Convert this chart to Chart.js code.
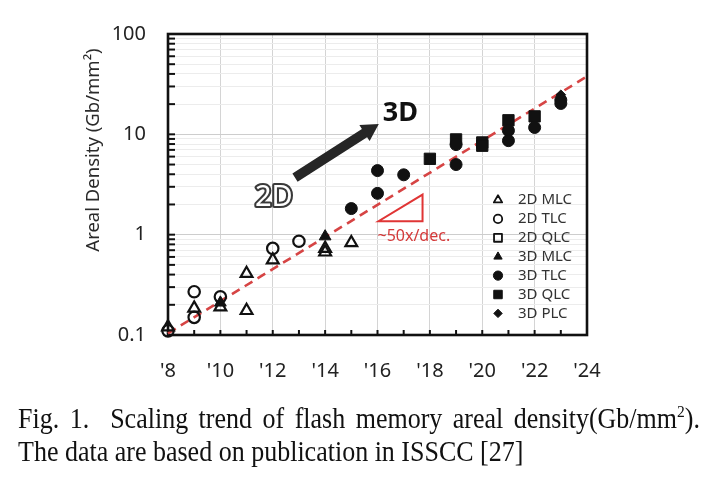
<!DOCTYPE html>
<html><head><meta charset="utf-8">
<script src="https://cdn.jsdelivr.net/npm/chart.js@4.4.1/dist/chart.umd.min.js"></script>
<style>
html,body{margin:0;padding:0;background:#fff;width:723px;height:498px;overflow:hidden}
#wrap{position:relative;width:723px;height:498px}
canvas{position:absolute;left:0;top:0}
.cap{position:absolute;left:18px;font-family:"Liberation Serif","Times New Roman",serif;font-size:26px;line-height:30px;color:#111;white-space:nowrap;transform:scaleY(1.12);transform-origin:0 0}
.cap sup{font-size:0.6em;vertical-align:super;line-height:0}
#cap1{top:402px;width:682px;text-align:justify;text-align-last:justify;white-space:normal}
#cap2{top:435px}
</style></head>
<body><div id="wrap"><canvas id="c" width="723" height="498"></canvas>
<div class="cap" id="cap1">Fig. 1.&nbsp; Scaling trend of flash memory areal density(Gb/mm<sup>2</sup>).</div>
<div class="cap" id="cap2">The data are based on publication in ISSCC [27]</div>
</div>
<script>
// ---- axis ranges & tick labels ----
const xMin = 2008, xMax = 2024;
const xTickYears = [2008, 2010, 2012, 2014, 2016, 2018, 2020, 2022, 2024];
const xTickLabels = ["'8", "'10", "'12", "'14", "'16", "'18", "'20", "'22", "'24"];
const yMajorTicks = [0.1, 1, 10, 100];
const yTickLabels = ['0.1', '1', '10', '100'];

// ---- series ----
const seriesNames = ['2D MLC', '2D TLC', '2D QLC', '3D MLC', '3D TLC', '3D QLC', '3D PLC'];
const mlc2dYears  = [2008, 2009, 2010, 2011, 2011, 2012, 2014, 2014, 2015];
const mlc2dValues = [0.12, 0.185, 0.19, 0.41, 0.175, 0.56, 0.73, 0.67, 0.83];
const tlc2dYears  = [2008, 2009, 2009, 2010, 2012, 2013];
const tlc2dValues = [0.11, 0.27, 0.15, 0.24, 0.73, 0.86];
const qlc2dYears  = [];
const qlc2dValues = [];
const mlc3dYears  = [2010, 2014];
const mlc3dValues = [0.21, 0.96];
const tlc3dYears  = [2015, 2016, 2016, 2017, 2019, 2019, 2021, 2021, 2022, 2023, 2023];
const tlc3dValues = [1.82, 4.35, 2.58, 3.95, 7.9, 5.0, 10.9, 8.65, 11.7, 22.0, 20.3];
const qlc3dYears  = [2018, 2019, 2020, 2020, 2021, 2022];
const qlc3dValues = [5.7, 8.9, 8.3, 7.7, 13.8, 15.1];
const plc3dYears  = [2023];
const plc3dValues = [24.8];
const trendYears  = [2008, 2024];
const trendValues = [0.104, 37.8];

// annotation anchors (data units)
const arrowFrom = {x: 2012.85, y: 3.7};
const arrowTo   = {x: 2016.05, y: 12.7};
const slopeTri  = [{x: 2016.04, y: 1.36}, {x: 2017.72, y: 1.36}, {x: 2017.72, y: 2.51}];
const slopeText = {x: 2016.0, y: 0.96, text: '~50x/dec.'};
const label2D   = {x: 2011.32, y: 2.36, text: '2D'};
const label3D   = {x: 2016.2, y: 16.2, text: '3D'};
const yTitle = 'Areal Density (Gb/mm\u00B2)';

function pts(xs, ys) { return xs.map((x, i) => ({x: x, y: ys[i]})); }
const INK = '#111';
const NONE = 'rgba(0,0,0,0)';
function series(i, xs, ys, style, radius, filled, legendRadius) {
  return {
    label: seriesNames[i], data: pts(xs, ys), pointStyle: style, pointRadius: radius, pointHoverRadius: radius,
    backgroundColor: filled ? INK : NONE, borderColor: INK, borderWidth: filled ? 1 : 2.2,
    legendRadius: legendRadius, clip: false, order: 0
  };
}
const datasets = [
  series(0, mlc2dYears, mlc2dValues, 'triangle', 6.8, false, 4.8),
  series(1, tlc2dYears, tlc2dValues, 'circle', 5.7, false, 4.2),
  series(2, qlc2dYears, qlc2dValues, 'rect', 7.5, false, 5.6),
  series(3, mlc3dYears, mlc3dValues, 'triangle', 6.8, true, 4.8),
  series(4, tlc3dYears, tlc3dValues, 'circle', 6.0, true, 4.6),
  series(5, qlc3dYears, qlc3dValues, 'rect', 8.0, true, 6.0),
  series(6, plc3dYears, plc3dValues, 'rectRot', 4.8, true, 4.2),
  {label: 'trend', data: pts(trendYears, trendValues), showLine: true, borderColor: '#d64444',
   borderDash: [9, 6], borderWidth: 2.6, pointRadius: 0, pointHoverRadius: 0, order: 10, isTrend: true, clip: false}
];

const FONT = '"Noto Sans", "Open Sans", sans-serif';

function drawMarker(ctx, style, r, x, y) {
  if (Chart.helpers && Chart.helpers.drawPoint) {
    Chart.helpers.drawPoint(ctx, {pointStyle: style, radius: r, borderWidth: ctx.lineWidth, rotation: 0}, x, y);
    return;
  }
  ctx.beginPath(); ctx.arc(x, y, r, 0, Math.PI * 2); ctx.fill(); ctx.stroke();
}

const framePlugin = {
  id: 'frame',
  beforeDatasetsDraw(chart) {
    const {ctx, chartArea: a, scales: {x, y}} = chart;
    ctx.save();
    ctx.strokeStyle = INK; ctx.lineWidth = 2;
    y.ticks.forEach(t => {
      const py = y.getPixelForValue(t.value);
      ctx.beginPath(); ctx.moveTo(a.left, py); ctx.lineTo(a.left + 7, py); ctx.stroke();
    });
    x.ticks.forEach(t => {
      const px = x.getPixelForValue(t.value);
      ctx.beginPath(); ctx.moveTo(px, a.bottom); ctx.lineTo(px, a.bottom - 5); ctx.stroke();
    });
    ctx.lineWidth = 2.6;
    ctx.strokeRect(a.left, a.top, a.right - a.left, a.bottom - a.top);
    ctx.restore();
  }
};

const annoPlugin = {
  id: 'anno',
  afterDatasetsDraw(chart) {
    const {ctx, chartArea: a, scales: {x, y}} = chart;
    const P = p => ({px: x.getPixelForValue(p.x), py: y.getPixelForValue(p.y)});
    ctx.save();
    // slope triangle
    ctx.strokeStyle = '#e03535'; ctx.lineWidth = 2;
    ctx.beginPath();
    slopeTri.forEach((p, i) => { const q = P(p); if (i) ctx.lineTo(q.px, q.py); else ctx.moveTo(q.px, q.py); });
    ctx.closePath(); ctx.stroke();
    // slope text
    const st = P(slopeText);
    ctx.fillStyle = '#d43a3a'; ctx.font = '16px ' + FONT; ctx.textAlign = 'left'; ctx.textBaseline = 'middle';
    ctx.fillText(slopeText.text, st.px, st.py);
    // arrow
    const A = P(arrowFrom), B = P(arrowTo);
    const dx = B.px - A.px, dy = B.py - A.py, L = Math.hypot(dx, dy);
    const ux = dx / L, uy = dy / L, nx = -uy, ny = ux;
    const sw = 4.8, hw = 9.5, hl = 17;
    const bx = B.px - ux * hl, by = B.py - uy * hl;
    ctx.fillStyle = '#262626';
    ctx.beginPath();
    ctx.moveTo(A.px + nx * sw, A.py + ny * sw);
    ctx.lineTo(bx + nx * sw, by + ny * sw);
    ctx.lineTo(bx + nx * hw, by + ny * hw);
    ctx.lineTo(B.px, B.py);
    ctx.lineTo(bx - nx * hw, by - ny * hw);
    ctx.lineTo(bx - nx * sw, by - ny * sw);
    ctx.lineTo(A.px - nx * sw, A.py - ny * sw);
    ctx.closePath(); ctx.fill();
    // 2D outlined
    const t2 = P(label2D);
    ctx.font = '29px ' + FONT; ctx.textBaseline = 'middle'; ctx.textAlign = 'left';
    ctx.lineJoin = 'round';
    ctx.lineWidth = 4.2; ctx.strokeStyle = '#3a3a3a'; ctx.strokeText(label2D.text, t2.px, t2.py);
    ctx.fillStyle = '#fff'; ctx.fillText(label2D.text, t2.px, t2.py);
    // 3D bold
    const t3 = P(label3D);
    ctx.font = 'bold 27px ' + FONT; ctx.fillStyle = '#111';
    ctx.fillText(label3D.text, t3.px, t3.py);
    // y title
    ctx.save();
    ctx.translate(94, 150); ctx.rotate(-Math.PI / 2);
    ctx.font = '18.5px ' + FONT; ctx.fillStyle = '#2a2a2a'; ctx.textAlign = 'center'; ctx.textBaseline = 'middle';
    ctx.fillText(yTitle, 0, 0);
    ctx.restore();
    // legend
    const lx = a.right - 89, ly0 = a.top + 166, step = 18.9;
    let row = 0;
    chart.data.datasets.forEach(ds => {
      if (ds.isTrend) return;
      const yy = ly0 + row * step;
      ctx.fillStyle = ds.backgroundColor; ctx.strokeStyle = ds.borderColor;
      ctx.lineWidth = ds.backgroundColor === NONE ? 1.8 : 1;
      drawMarker(ctx, ds.pointStyle, ds.legendRadius, lx, yy);
      ctx.fillStyle = '#333'; ctx.font = '15px ' + FONT; ctx.textAlign = 'left'; ctx.textBaseline = 'middle';
      ctx.fillText(ds.label, lx + 20, yy);
      row++;
    });
    ctx.restore();
  }
};

new Chart(document.getElementById('c'), {
  type: 'scatter',
  data: {datasets: datasets},
  plugins: [framePlugin, annoPlugin],
  options: {
    responsive: false, animation: false, devicePixelRatio: 1,
    layout: {padding: {left: 0, top: 32, right: 136, bottom: 0}},
    plugins: {legend: {display: false}, tooltip: {enabled: false}},
    scales: {
      x: {
        type: 'linear', min: xMin, max: xMax,
        afterBuildTicks: s => { const t = []; for (let v = xMin; v <= xMax; v++) t.push({value: v}); s.ticks = t; },
        afterFit: s => { s.height = 498 - 335; },
        grid: {color: c => (c.tick && xTickYears.includes(c.tick.value)) ? '#d4d4d4' : NONE, lineWidth: 1, drawTicks: false},
        border: {display: false},
        ticks: {autoSkip: false, maxRotation: 0, padding: 24, color: '#222', font: {family: FONT, size: 20},
          callback: v => { const i = xTickYears.indexOf(v); return i >= 0 ? xTickLabels[i] : ''; }}
      },
      y: {
        type: 'logarithmic', min: 0.1, max: 100,
        afterBuildTicks: s => {
          const t = [];
          yMajorTicks.forEach((base, d) => {
            const lim = d === yMajorTicks.length - 1 ? 1 : 9;
            for (let k = 1; k <= lim; k++) t.push({value: base * k, major: k === 1});
          });
          s.ticks = t;
        },
        afterFit: s => { s.width = 168; },
        grid: {color: c => (c.tick && c.tick.major) ? '#cdcdcd' : '#ececec', lineWidth: 1, drawTicks: false},
        border: {display: false},
        ticks: {autoSkip: false, padding: 22, color: '#222', font: {family: FONT, size: 20},
          callback: v => { const i = yMajorTicks.findIndex(m => Math.abs(m - v) / m < 1e-6); return i >= 0 ? yTickLabels[i] : ''; }}
      }
    }
  }
});
</script></body></html>
